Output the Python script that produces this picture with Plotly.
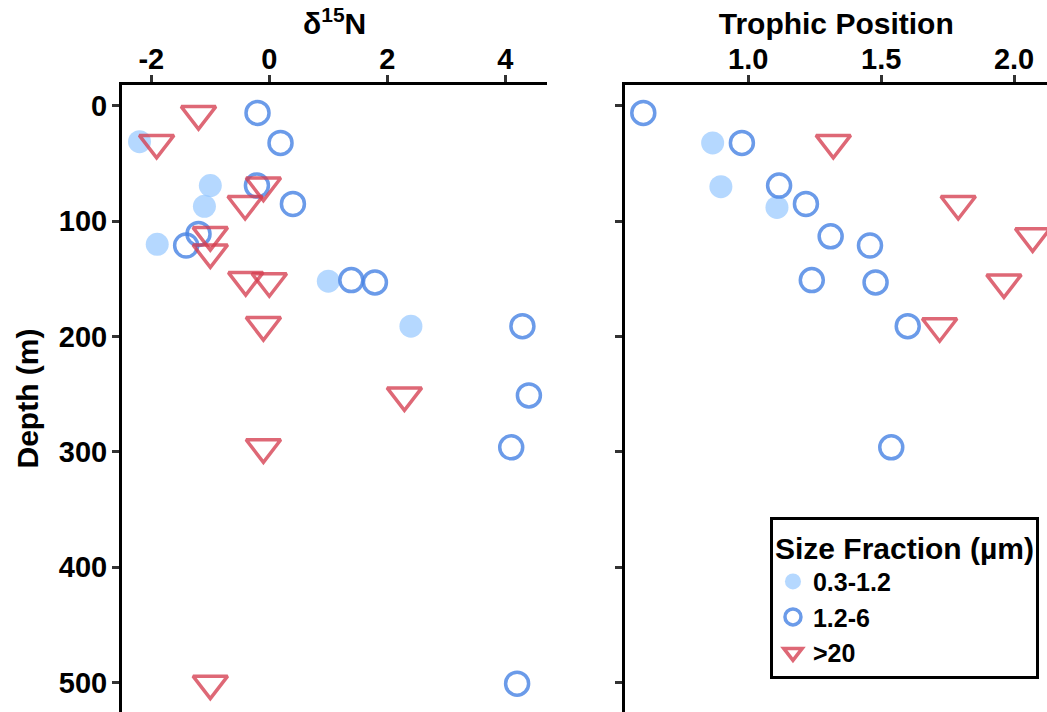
import plotly.graph_objects as go

# ---- data ----
light_d15n = [-2.2, -1.0, -1.1, -1.9, 1.0, 2.4]
light_depth = [31, 69, 87, 120, 152, 191]

blue_d15n = [-0.2, 0.19, -0.21, 0.40, -1.2, -1.41, 1.39, 1.79, 4.29, 4.40, 4.10, 4.20]
blue_depth = [6, 32, 69, 85, 111, 121, 151, 153, 191, 251, 296, 501]

red_d15n = [-1.2, -1.91, -0.10, -0.41, -1.0, -1.0, -0.40, 0.0, -0.10, 2.29, -0.10, -1.0]
red_depth = [7, 32, 69, 85, 112, 127, 151, 152, 190, 251, 296, 501]

light_tp = [0.866, 0.897, 1.108]
light_tp_depth = [32, 70, 88]

blue_tp = [0.605, 0.976, 1.116, 1.217, 1.310, 1.458, 1.239, 1.479, 1.600, 1.538]
blue_tp_depth = [6, 32, 69, 85, 113, 121, 151, 153, 191, 296]

red_tp = [1.32, 1.79, 2.07, 1.962, 1.72]
red_tp_depth = [32, 85, 113, 153, 191]

size_labels = ["0.3-1.2", "1.2-6", ">20"]
d15n_ticks = [-2, 0, 2, 4]
d15n_ticktext = ["-2", "0", "2", "4"]
tp_ticks = [1.0, 1.5, 2.0]
tp_ticktext = ["1.0", "1.5", "2.0"]
depth_ticks = [0, 100, 200, 300, 400, 500]

# ---- styles ----
FONT = "Liberation Sans, Arial, Helvetica, sans-serif"
LIGHT = "rgba(150,200,255,0.7)"
BLUE = "rgba(70,130,228,0.8)"
RED = "rgba(213,62,79,0.78)"

light_marker = dict(symbol="circle", size=23, color=LIGHT, line=dict(width=0))
blue_marker = dict(symbol="circle-open", size=23, color=BLUE, line=dict(width=3.5, color=BLUE))
red_marker = dict(symbol="triangle-down-open", size=30, color=RED, line=dict(width=3.5, color=RED))

fig = go.Figure()

# left panel
fig.add_trace(go.Scatter(x=light_d15n, y=light_depth, mode="markers", marker=light_marker,
                         name=size_labels[0], legendgroup="a", xaxis="x", yaxis="y"))
fig.add_trace(go.Scatter(x=blue_d15n, y=blue_depth, mode="markers", marker=blue_marker,
                         name=size_labels[1], legendgroup="b", xaxis="x", yaxis="y"))
fig.add_trace(go.Scatter(x=red_d15n, y=red_depth, mode="markers", marker=red_marker,
                         name=size_labels[2], legendgroup="c", xaxis="x", yaxis="y"))
# right panel
fig.add_trace(go.Scatter(x=light_tp, y=light_tp_depth, mode="markers", marker=light_marker,
                         name=size_labels[0], legendgroup="a", showlegend=False, xaxis="x2", yaxis="y2"))
fig.add_trace(go.Scatter(x=blue_tp, y=blue_tp_depth, mode="markers", marker=blue_marker,
                         name=size_labels[1], legendgroup="b", showlegend=False, xaxis="x2", yaxis="y2"))
fig.add_trace(go.Scatter(x=red_tp, y=red_tp_depth, mode="markers", marker=red_marker,
                         name=size_labels[2], legendgroup="c", showlegend=False, xaxis="x2", yaxis="y2"))

tickfont = dict(family=FONT, size=29, color="black", weight="bold")
titlefont = dict(family=FONT, size=30, color="black", weight="bold")

common_x = dict(side="top", showline=True, linewidth=3, linecolor="black", ticks="outside",
                ticklen=7, tickwidth=3, tickcolor="#333333", showgrid=False, zeroline=False,
                tickfont=tickfont, ticklabelstandoff=-6, fixedrange=True, automargin=False)
common_y = dict(showline=True, linewidth=3, linecolor="black", ticks="outside",
                ticklen=7, tickwidth=3, tickcolor="#333333", showgrid=False, zeroline=False,
                tickvals=depth_ticks, range=[525.6, -18.2], fixedrange=True, automargin=False)

fig.update_layout(
    width=1047, height=712,
    margin=dict(l=122, r=0, t=85, b=0, autoexpand=False),
    paper_bgcolor="white", plot_bgcolor="white",
    font=dict(family=FONT, color="black"),
    xaxis=dict(domain=[0, 0.4598], anchor="y", range=[-2.497, 4.712], tickvals=d15n_ticks,
               ticktext=d15n_ticktext,
               title=dict(text="δ<sup>15</sup>N", font=titlefont, standoff=0), **common_x),
    xaxis2=dict(domain=[0.5443, 1.0], anchor="y2", range=[0.538, 2.124], tickvals=tp_ticks,
                ticktext=tp_ticktext,
                title=dict(text="Trophic Position", font=titlefont, standoff=0), **common_x),
    yaxis=dict(domain=[0, 1], anchor="x", tickfont=tickfont, ticklabelstandoff=-1, **common_y),
    yaxis2=dict(domain=[0, 1], anchor="x2", showticklabels=False, **common_y),
    annotations=[dict(text="Depth (m)", textangle=-90, xref="paper", yref="paper",
                      x=(27 - 122) / 925, y=0.5, xanchor="center", yanchor="middle",
                      showarrow=False, font=titlefont)],
    legend=dict(x=0.7005, y=0.3115, xanchor="left", yanchor="top",
                bgcolor="white", bordercolor="black", borderwidth=3,
                title=dict(text="Size Fraction (µm)", font=dict(family=FONT, size=30, weight="bold")),
                font=dict(family=FONT, size=25, color="black", weight="bold"),
                itemsizing="trace", tracegroupgap=0),
    showlegend=True,
)

fig.write_html("out.html", config={"displayModeBar": False},
               post_script="document.body.style.margin='0';document.body.style.overflow='hidden';")
